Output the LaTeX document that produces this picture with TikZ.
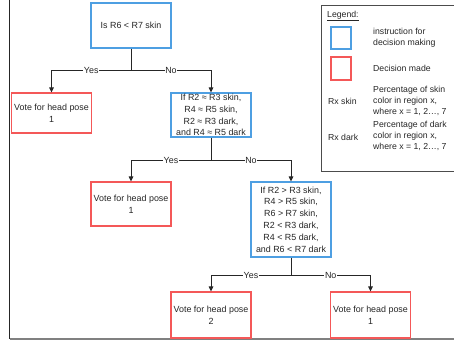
\documentclass[tikz,border=0pt]{standalone}
\usepackage{fontspec}
\setmainfont{Liberation Sans}
\usetikzlibrary{arrows.meta}
\definecolor{ink}{HTML}{262626}
\definecolor{instr}{HTML}{4E9FE2}
\definecolor{decis}{HTML}{F45858}
\begin{document}
\begin{tikzpicture}[x=1pt,y=-1pt,
  every node/.style={font=\fontsize{8.9}{11.8}\selectfont, text=ink},
  instrbox/.style={draw=instr, line width=1.05pt, minimum width=80pt, align=center, inner sep=1pt},
  decbox/.style={draw=decis, line width=1.05pt, minimum width=80pt, align=center, inner sep=1pt},
  link/.style={draw=ink, line width=0.9pt},
  arr/.style={link, -{Triangle[length=5pt,width=4.5pt]}},
  lab/.style={fill=white, inner sep=0.6pt},
  legtext/.style={anchor=west, align=left, inner sep=0pt, font=\fontsize{8.7}{11.4}\selectfont}]
\useasboundingbox (0,0) rectangle (454,340);

% page frame
\draw[ink, line width=1.2pt] (9.5,0) -- (9.5,339);
\draw[gray, line width=1.2pt] (9.5,339) -- (456,339);

% decision nodes
\node[instrbox, minimum height=45pt] (q1) at (131,25.5) {Is R6 < R7 skin};
\node[decbox, minimum height=40pt] (v1) at (51.5,113) {Vote for head pose\\1};
\node[instrbox, minimum height=44pt] (q2) at (211,115) {If R2 ≈ R3 skin,\\R4 ≈ R5 skin,\\R2 ≈ R3 dark,\\and R4 ≈ R5 dark};
\node[decbox, minimum height=44pt] (v2) at (131,204) {Vote for head pose\\1};
\node[instrbox, minimum height=75pt] (q3) at (291,219.5) {If R2 > R3 skin,\\R4 > R5 skin,\\R6 > R7 skin,\\R2 < R3 dark,\\R4 < R5 dark,\\and R6 < R7 dark};
\node[decbox, minimum height=46pt] (v3) at (211,315) {Vote for head pose\\2};
\node[decbox, minimum height=46pt] (v4) at (370.5,315) {Vote for head pose\\1};

% branch points
\coordinate (j1) at (131,70.5);
\coordinate (j2) at (211,160);
\coordinate (j3) at (291,275);

% connectors
\draw[link] (q1.south) -- (j1);
\draw[arr] (j1) -| node[lab, pos=0.25] {Yes} (v1.north);
\draw[arr] (j1) -| node[lab, pos=0.25] {No} (q2.north);
\draw[link] (q2.south) -- (j2);
\draw[arr] (j2) -| node[lab, pos=0.25] {Yes} (v2.north);
\draw[arr] (j2) -| node[lab, pos=0.25] {No} (q3.north);
\draw[link] (q3.south) -- (j3);
\draw[arr] (j3) -| node[lab, pos=0.25] {Yes} (v3.north);
\draw[arr] (j3) -| node[lab, pos=0.25] {No} (v4.north);

% legend
\draw[black!70, line width=0.9pt] (460,5) -- (321,5) -- (321,171) -- (460,171);
\node[legtext] (lt) at (327,16) {\underline{Legend:}};
\node[draw=instr, line width=1.05pt, minimum width=20pt, minimum height=22pt, inner sep=0pt] (ls1) at (341,38) {};
\node[legtext] (ld1) at (373,37.5) {instruction for\\decision making};
\node[draw=decis, line width=1.05pt, minimum width=20pt, minimum height=23pt, inner sep=0pt] (ls2) at (341,68.5) {};
\node[legtext] (ld2) at (373,68) {Decision made};
\node[legtext] (lk1) at (328,101) {Rx skin};
\node[legtext] (ld3) at (373,101) {Percentage of skin\\color in region x,\\where x = 1, 2…, 7};
\node[legtext] (lk2) at (328,137) {Rx dark};
\node[legtext] (ld4) at (373,136) {Percentage of dark\\color in region x,\\where x = 1, 2…, 7};
\end{tikzpicture}
\end{document}
